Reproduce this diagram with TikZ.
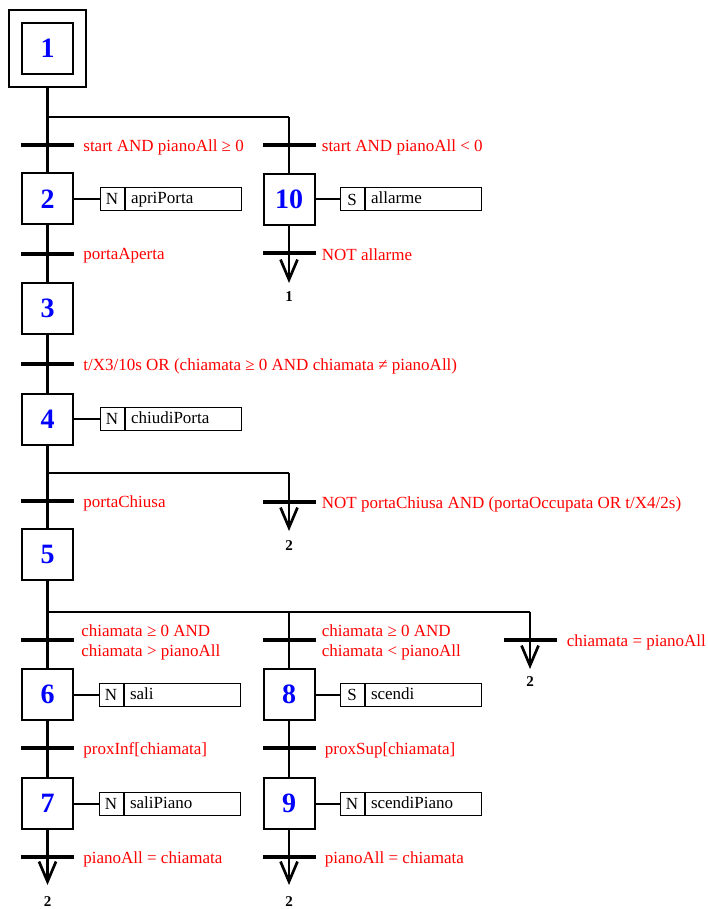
\documentclass[tikz,border=0pt]{standalone}
\usepackage{fontspec}
\setmainfont{Liberation Serif}
\usetikzlibrary{arrows.meta, positioning}

\begin{document}
\begin{tikzpicture}[x=1pt, y=-1pt,
    stepbox/.style={rectangle, draw, line width=2pt, minimum size=51pt, inner sep=0pt,
                    text=blue, font=\fontsize{28}{30}\selectfont\bfseries},
    initbox/.style={rectangle, draw, line width=2pt, minimum size=77pt, inner sep=0pt},
    trans/.style={rectangle, fill=black, minimum width=53pt, minimum height=4.5pt, inner sep=0pt},
    cond/.style={inner sep=0pt, yshift=-2pt, text=red, align=left, font=\fontsize{17}{20}\selectfont},
    qual/.style={rectangle, draw, line width=1pt, minimum width=24pt, minimum height=23pt,
                 inner sep=0pt, font=\fontsize{17}{20}\selectfont},
    act/.style={rectangle, draw, line width=1pt, text width=104pt, minimum height=23pt,
                inner xsep=6pt, inner ysep=0pt, text height=12pt, text depth=3pt,
                align=left, font=\fontsize{17}{20}\selectfont},
    jump/.style={inner sep=0pt, font=\fontsize{15}{17}\selectfont\bfseries},
    link/.style={line width=2.7pt},
    branch/.style={line width=1.5pt},
    tolink/.style={line width=2.7pt, -{Straight Barb[length=20pt, width=17pt]}}]

    \useasboundingbox (0,0) rectangle (708,909);

    % Initial step
    \node[stepbox] (s1) at (47.5, 48.5) {1};
    \node[initbox] (s1o) at (47.5, 48.5) {};

    % Divergence after 1
    \coordinate (d1) at (47.5, 117);
    \coordinate (d1r) at (289, 117);
    \node[trans] (t1) at (47.5, 145) {};
    \node[cond, right=9pt of t1] {start AND pianoAll ≥ 0};
    \node[trans] (t1b) at (289, 145) {};
    \node[cond, right=6pt of t1b] {start AND pianoAll < 0};

    % Steps 2 and 10
    \node[stepbox] (s2) at (47.5, 199) {2};
    \node[qual] (q2) at (112, 199) {N};
    \node[act, right=0pt of q2] (a2) {apriPorta};
    \node[stepbox] (s10) at (289, 199.5) {10};
    \node[qual] (q10) at (352, 199.5) {S};
    \node[act, right=0pt of q10] (a10) {allarme};

    \node[trans] (t2) at (47.5, 254) {};
    \node[cond, right=9pt of t2] {portaAperta};
    \node[trans] (t10) at (289, 253) {};
    \node[cond, right=6pt of t10] {NOT allarme};
    \coordinate (e10) at (289, 283);
    \node[jump] (j10) at (289, 297) {1};

    % Steps 3 and 4
    \node[stepbox] (s3) at (47.5, 308.5) {3};
    \node[trans] (t3) at (47.5, 364) {};
    \node[cond, right=9pt of t3] {t/X3/10s OR (chiamata ≥ 0 AND chiamata ≠ pianoAll)};
    \node[stepbox] (s4) at (47.5, 419) {4};
    \node[qual] (q4) at (112, 419) {N};
    \node[act, right=0pt of q4] (a4) {chiudiPorta};

    % Divergence after 4
    \coordinate (d4) at (47.5, 473);
    \coordinate (d4r) at (289, 473);
    \node[trans] (t4) at (47.5, 501) {};
    \node[cond, right=9pt of t4] {portaChiusa};
    \node[trans] (t4b) at (289, 502) {};
    \node[cond, right=6pt of t4b] {NOT portaChiusa AND (portaOccupata OR t/X4/2s)};
    \coordinate (e4) at (289, 531);
    \node[jump] (j4) at (289, 546) {2};

    % Step 5 and divergence
    \node[stepbox] (s5) at (47.5, 554.5) {5};
    \coordinate (d5) at (47.5, 612);
    \coordinate (d5m) at (289, 612);
    \coordinate (d5r) at (530, 612);
    \node[trans] (t5) at (47.5, 640) {};
    \node[cond, right=7pt of t5] {chiamata ≥ 0 AND\\chiamata > pianoAll};
    \node[trans] (t8) at (289, 640) {};
    \node[cond, right=6pt of t8] {chiamata ≥ 0 AND\\chiamata < pianoAll};
    \node[trans] (t5c) at (530, 640) {};
    \node[cond, right=10pt of t5c] {chiamata = pianoAll};
    \coordinate (e5) at (530, 669);
    \node[jump] (j5) at (530, 682) {2};

    % Left sequence 6-7
    \node[stepbox] (s6) at (47.5, 694.5) {6};
    \node[qual] (q6) at (111, 694.5) {N};
    \node[act, right=0pt of q6] (a6) {sali};
    \node[trans] (t6) at (47.5, 748) {};
    \node[cond, right=9pt of t6] {proxInf[chiamata]};
    \node[stepbox] (s7) at (47.5, 803.5) {7};
    \node[qual] (q7) at (111, 803.5) {N};
    \node[act, right=0pt of q7] (a7) {saliPiano};
    \node[trans] (t7) at (47.5, 857) {};
    \node[cond, right=9pt of t7] {pianoAll = chiamata};
    \coordinate (e7) at (47.5, 885);
    \node[jump] (j7) at (47.5, 902) {2};

    % Right sequence 8-9
    \node[stepbox] (s8) at (289, 694.5) {8};
    \node[qual] (q8) at (352, 694.5) {S};
    \node[act, right=0pt of q8] (a8) {scendi};
    \node[trans] (t9) at (289, 748) {};
    \node[cond, right=9pt of t9] {proxSup[chiamata]};
    \node[stepbox] (s9) at (289, 803.5) {9};
    \node[qual] (q9) at (352, 803.5) {N};
    \node[act, right=0pt of q9] (a9) {scendiPiano};
    \node[trans] (t9b) at (289, 857) {};
    \node[cond, right=9pt of t9b] {pianoAll = chiamata};
    \coordinate (e9) at (289, 885);
    \node[jump] (j9) at (289, 902) {2};

    % Links
    \draw[link] (s1o) -- (s2);
    \draw[branch] (d1) -- (d1r);
    \draw[link] (d1r) -- (s10);
    \draw[link] (s2) -- (s3);
    \draw[tolink] (s10) -- (e10);
    \draw[link] (s3) -- (s4);
    \draw[link] (s4) -- (s5);
    \draw[branch] (d4) -- (d4r);
    \draw[tolink] (d4r) -- (e4);
    \draw[link] (s5) -- (s6);
    \draw[branch] (d5) -- (d5r);
    \draw[link] (d5m) -- (s8);
    \draw[tolink] (d5r) -- (e5);
    \draw[link] (s6) -- (s7);
    \draw[tolink] (s7) -- (e7);
    \draw[link] (s8) -- (s9);
    \draw[tolink] (s9) -- (e9);

    % Actions
    \foreach \s/\q in {s2/q2, s10/q10, s4/q4, s6/q6, s7/q7, s8/q8, s9/q9}
        \draw[line width=2pt] (\s.east |- \q.west) -- (\q.west);
\end{tikzpicture}
\end{document}
